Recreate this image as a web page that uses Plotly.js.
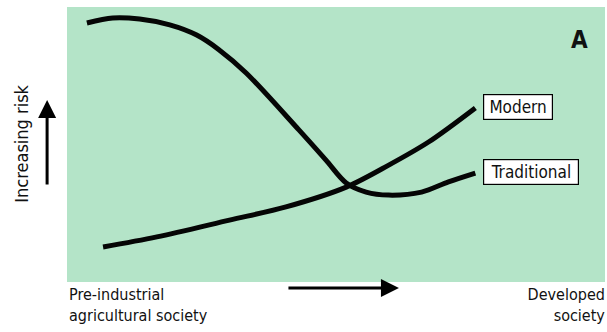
<!DOCTYPE html>
<html>
<head>
<meta charset="utf-8">
<script src="https://cdn.plot.ly/plotly-3.0.1.min.js"></script>
<style>
html,body{margin:0;padding:0;background:#fff;}
#chart{width:607px;height:332px;}
#chart text{font-stretch:condensed !important;}
</style>
</head>
<body>
<div id="chart"></div>
<script>
// Development stage (0 = pre-industrial, 100 = developed) and relative risk (0-100)
const traditionalX = [3.7, 8.5, 13.5, 19.1, 24.1, 28.3, 33.3, 43.1, 48.1, 51.9, 55.6, 59.8, 65.9, 70.9, 75.9];
const traditionalY = [94.2, 96.0, 95.6, 93.5, 89.8, 84.4, 76.0, 55.3, 44.4, 36.0, 32.7, 31.6, 32.7, 36.4, 39.6];
const modernX = [6.7, 16.7, 30.2, 40.7, 51.9, 59.8, 67.2, 75.9];
const modernY = [12.7, 16.4, 22.5, 27.3, 34.5, 42.5, 50.9, 63.3];
const seriesNames = ["Traditional", "Modern"];
const yAxisLabel = "Increasing risk";
const xLeftLabel = "Pre-industrial<br>agricultural society";
const xRightLabel = "Developed<br>society";
const panelLabel = "A";

const FONT = "'DejaVu Sans', sans-serif";
const lineStyle = {color: "#050505", width: 5, shape: "spline", smoothing: 0.9};

const traces = [
  {x: traditionalX, y: traditionalY, name: seriesNames[0], mode: "lines", line: lineStyle, hoverinfo: "skip"},
  {x: modernX, y: modernY, name: seriesNames[1], mode: "lines", line: lineStyle, hoverinfo: "skip"}
];

const axisOff = {showgrid: false, zeroline: false, showticklabels: false, showline: false, ticks: "", fixedrange: true};

const boxFont = {family: FONT, size: 17, color: "#111"};

const layout = {
  width: 607, height: 332,
  margin: {l: 67, r: 2, t: 7, b: 50},
  paper_bgcolor: "#ffffff",
  plot_bgcolor: "#b4e4c8",
  showlegend: false,
  xaxis: Object.assign({range: [0, 100]}, axisOff),
  yaxis: Object.assign({range: [0, 100]}, axisOff),
  font: {family: FONT, color: "#111"},
  annotations: [
    {x: modernX[modernX.length - 1], y: modernY[modernY.length - 1], xref: "x", yref: "y",
     text: seriesNames[1], showarrow: false, xanchor: "left", yanchor: "middle", xshift: 8, yshift: 1,
     bgcolor: "#ffffff", bordercolor: "#000", borderwidth: 1.2, borderpad: 2, font: boxFont},
    {x: traditionalX[traditionalX.length - 1], y: traditionalY[traditionalY.length - 1], xref: "x", yref: "y",
     text: seriesNames[0], showarrow: false, xanchor: "left", yanchor: "middle", xshift: 8, yshift: 1,
     bgcolor: "#ffffff", bordercolor: "#000", borderwidth: 1.2, borderpad: 2, font: boxFont},
    {x: 0.974, y: 0.94, xref: "paper", yref: "paper", text: "<b>" + panelLabel + "</b>",
     showarrow: false, xanchor: "right", yanchor: "top", font: {family: FONT, size: 24, color: "#111"}},
    {x: -0.083, y: 0.502, xref: "paper", yref: "paper", text: yAxisLabel, textangle: -90,
     showarrow: false, xanchor: "center", yanchor: "middle", font: {family: FONT, size: 18, color: "#111"}},
    {x: -0.037, y: 0.662, xref: "paper", yref: "paper", text: "", showarrow: true,
     ax: 0, ay: 86, arrowhead: 2, arrowsize: 1.2, arrowwidth: 3, arrowcolor: "#000"},
    {x: 0.617, y: -0.022, xref: "paper", yref: "paper", text: "", showarrow: true,
     ax: -112, ay: 0, arrowhead: 2, arrowsize: 1.2, arrowwidth: 3, arrowcolor: "#000"},
    {x: 0, y: -0.005, xref: "paper", yref: "paper", text: xLeftLabel, align: "left",
     showarrow: false, xanchor: "left", yanchor: "top", font: {family: FONT, size: 16, color: "#111"}},
    {x: 1.004, y: -0.005, xref: "paper", yref: "paper", text: xRightLabel, align: "right",
     showarrow: false, xanchor: "right", yanchor: "top", font: {family: FONT, size: 16, color: "#111"}}
  ]
};

Plotly.newPlot("chart", traces, layout, {displayModeBar: false, staticPlot: true});
</script>
</body>
</html>
